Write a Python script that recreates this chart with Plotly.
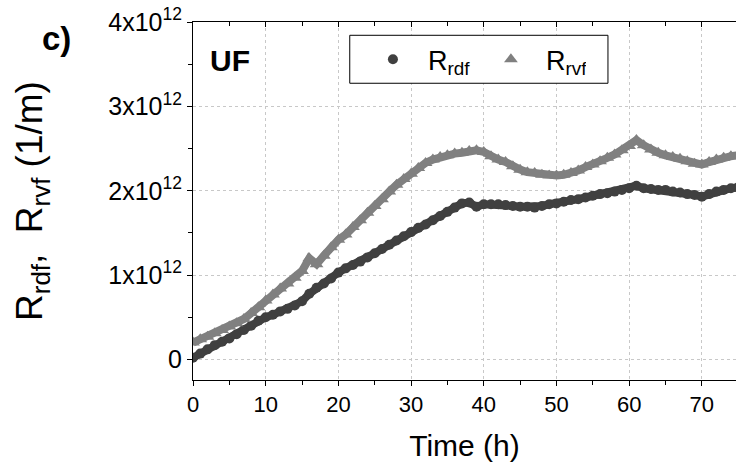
import plotly.graph_objects as go

# time (h)
time_h = list(range(0, 76))

# resistance values in units of 1e12 1/m
r_rdf = [0.02, 0.07, 0.12, 0.17, 0.21, 0.25, 0.30, 0.35, 0.40, 0.46,
         0.50, 0.53, 0.57, 0.60, 0.64, 0.69, 0.78, 0.85, 0.90, 0.96,
         1.03, 1.08, 1.12, 1.16, 1.21, 1.26, 1.31, 1.36, 1.41, 1.46,
         1.51, 1.56, 1.60, 1.65, 1.70, 1.75, 1.80, 1.85, 1.86, 1.81,
         1.84, 1.84, 1.84, 1.83, 1.82, 1.81, 1.81, 1.80, 1.82, 1.84,
         1.85, 1.87, 1.89, 1.90, 1.92, 1.94, 1.96, 1.97, 1.99, 2.01,
         2.03, 2.06, 2.03, 2.02, 2.01, 2.01, 1.99, 1.98, 1.96, 1.95,
         1.93, 1.96, 1.99, 2.01, 2.03, 2.04]

r_rvf = [0.20, 0.24, 0.27, 0.31, 0.35, 0.39, 0.43, 0.48, 0.55, 0.62,
         0.70, 0.77, 0.84, 0.90, 0.97, 1.05, 1.20, 1.13, 1.23, 1.33,
         1.42, 1.48, 1.57, 1.65, 1.74, 1.82, 1.90, 1.99, 2.07, 2.14,
         2.20, 2.27, 2.33, 2.37, 2.40, 2.42, 2.44, 2.45, 2.47, 2.48,
         2.46, 2.41, 2.37, 2.34, 2.29, 2.25, 2.22, 2.21, 2.19, 2.18,
         2.18, 2.19, 2.21, 2.24, 2.28, 2.31, 2.35, 2.39, 2.43, 2.48,
         2.53, 2.60, 2.54, 2.49, 2.45, 2.42, 2.40, 2.38, 2.35, 2.32,
         2.31, 2.34, 2.37, 2.39, 2.41, 2.42]

SCALE = 1e12
y_tickvals = [0, 1, 2, 3, 4]
y_ticktext = ["0", "1x10<sup>12</sup>", "2x10<sup>12</sup>",
              "3x10<sup>12</sup>", "4x10<sup>12</sup>"]

DARK = "rgb(64,64,64)"
LIGHT = "rgb(128,128,128)"
FONT = "Arial, Liberation Sans, sans-serif"

y_rdf = [v * SCALE for v in r_rdf]
y_rvf = [v * SCALE for v in r_rvf]

fig = go.Figure()
# thick band underneath the dense markers
fig.add_trace(go.Scatter(x=time_h, y=y_rdf, mode="lines", showlegend=False,
                         line=dict(color=DARK, width=8), hoverinfo="skip"))
fig.add_trace(go.Scatter(x=time_h, y=y_rvf, mode="lines", showlegend=False,
                         line=dict(color=LIGHT, width=8), hoverinfo="skip"))
fig.add_trace(go.Scatter(
    x=time_h, y=y_rdf, name="&nbsp;&nbsp;R<sub>rdf</sub>", mode="markers",
    marker=dict(symbol="circle", size=10, color=DARK),
))
fig.add_trace(go.Scatter(
    x=time_h, y=y_rvf, name="&nbsp;&nbsp;R<sub>rvf</sub>", mode="markers",
    marker=dict(symbol="triangle-up", size=12, color=LIGHT),
))
# empty trace to carry the top mirror axis
fig.add_trace(go.Scatter(x=[], y=[], xaxis="x2", showlegend=False))

fig.update_layout(
    width=736, height=465,
    margin=dict(l=193, r=0, t=22, b=85),
    paper_bgcolor="white", plot_bgcolor="white",
    font=dict(family=FONT, color="black", size=22),
    showlegend=True,
    legend=dict(
        orientation="h", x=0.289, y=0.963, xanchor="left", yanchor="top",
        bgcolor="rgba(0,0,0,0)", borderwidth=0,
        font=dict(size=27, family=FONT), entrywidth=50, tracegroupgap=0,
        itemsizing="trace", indentation=23,
    ),
    # legend frame
    shapes=[dict(type="rect", xref="paper", yref="paper",
                 x0=0.2887, x1=0.7642, y0=0.8289, y1=0.9629,
                 line=dict(color="black", width=1), fillcolor="white",
                 layer="above")],
    xaxis=dict(
        range=[0, 74.7], tickvals=[0, 10, 20, 30, 40, 50, 60, 70],
        ticks="outside", ticklen=5, tickwidth=1, tickcolor="black",
        minor=dict(dtick=5, tick0=0, ticks="outside", ticklen=4, tickcolor="black", showgrid=False),
        showline=True, linecolor="black", linewidth=1,
        showgrid=True, gridcolor="rgb(200,200,200)", griddash="dot", gridwidth=1,
        zeroline=False,
        tickfont=dict(size=22),
        title=dict(text="Time (h)", font=dict(size=30), standoff=18),
    ),
    xaxis2=dict(
        overlaying="x", side="top", matches="x", range=[0, 74.7],
        tickvals=[0, 10, 20, 30, 40, 50, 60, 70],
        ticks="inside", ticklen=5, tickcolor="black",
        minor=dict(dtick=5, tick0=0, ticks="inside", ticklen=4, tickcolor="black"),
        showticklabels=False, showline=True, linecolor="black", showgrid=False,
        zeroline=False,
    ),
    yaxis=dict(
        range=[-0.243 * SCALE, 4.0 * SCALE],
        tickvals=[v * SCALE for v in y_tickvals], ticktext=y_ticktext,
        ticks="outside", ticklen=5, tickwidth=1, tickcolor="black",
        minor=dict(dtick=0.5 * SCALE, tick0=0, ticks="outside", ticklen=4, tickcolor="black", showgrid=False),
        showline=True, linecolor="black", linewidth=1,
        showgrid=True, gridcolor="rgb(200,200,200)", griddash="dot", gridwidth=1,
        zeroline=False,
        tickfont=dict(size=25),
        title=dict(text="R<sub>rdf</sub>,  R<sub>rvf</sub> (1/m)", font=dict(size=37), standoff=54),
    ),
    annotations=[
        dict(text="<b>c)</b>", xref="paper", yref="paper", x=-0.282, y=0.955,
             xanchor="left", yanchor="middle", showarrow=False,
             font=dict(size=33, family=FONT)),
        dict(text="<b>UF</b>", xref="paper", yref="paper", x=0.027, y=0.893,
             xanchor="left", yanchor="middle", showarrow=False,
             font=dict(size=30, family=FONT)),
    ],
)

fig.write_html("out.html")
